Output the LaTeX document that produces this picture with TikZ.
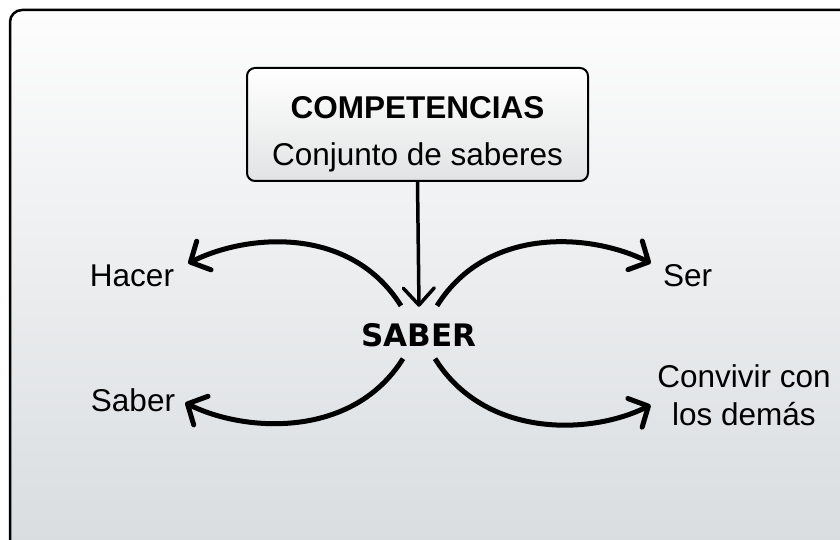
\documentclass[tikz,border=0pt]{standalone}
\usepackage{fontspec}
\setmainfont{Liberation Sans}
\newfontfamily\heavyfont{DejaVu Sans}
\usetikzlibrary{arrows.meta}
\definecolor{bgtop}{RGB}{253,253,253}
\definecolor{bgbottom}{RGB}{216,220,223}
\definecolor{boxbottom}{RGB}{226,227,228}
\newcommand{\labelsize}{\fontsize{31.5}{38}\selectfont}

\begin{document}
\begin{tikzpicture}[x=1pt, y=-1pt,
    lbl/.style={font=\labelsize, inner sep=2pt, anchor=base},
    branch/.style={line width=5pt, -{Straight Barb[length=15pt, width=32pt, round]}}]
    % Page and frame
    \useasboundingbox (0,0) rectangle (840,540);
    \clip (0,0) rectangle (840,540);
    \draw[line width=2.5pt, rounded corners=12pt, top color=bgtop, bottom color=bgbottom] (10,10) rectangle (860,560);

    % Top box
    \node[draw, line width=2pt, rounded corners=8pt, top color=white, bottom color=boxbottom, minimum width=341pt, minimum height=113pt] (comp) at (417.5,124.5) {};
    \node[lbl, font=\labelsize\bfseries] (comptitle) at (417.5,119) {COMPETENCIAS};
    \node[lbl] (compsub) at (417.5,166) {Conjunto de saberes};

    % Center
    \node[lbl, font=\heavyfont\bfseries\fontsize{31}{36}\selectfont] (saber) at (419,346) {SABER};

    % Labels
    \node[lbl] (hacer) at (132,286) {Hacer};
    \node[lbl] (ser) at (687.5,286) {Ser};
    \node[lbl] (saberb) at (133,411) {Saber};
    \node[lbl, align=center, anchor=center] (convivir) at (744,395) {Convivir con\\los demás};

    % Arrows
    \draw[line width=3.5pt, -{Straight Barb[length=17pt, width=31pt, round]}] (comp.south) -- ([yshift=14pt]saber.north);
    \draw[branch] ([xshift=-18pt,yshift=15pt]saber.north) .. controls +(-50,-80) and +(60,-30) .. ([xshift=12pt,yshift=12pt]hacer.east);
    \draw[branch] ([xshift=18pt,yshift=15pt]saber.north) .. controls +(50,-80) and +(-60,-30) .. ([xshift=-10pt,yshift=12pt]ser.west);
    \draw[branch] ([xshift=-16pt,yshift=-10pt]saber.south) .. controls +(-50,80) and +(60,30) .. ([xshift=8pt,yshift=-3pt]saberb.east);
    \draw[branch] ([xshift=16pt,yshift=-10pt]saber.south) .. controls +(50,80) and +(-60,30) .. ([xshift=-4.5pt,yshift=-10pt]convivir.west);
\end{tikzpicture}
\end{document}
